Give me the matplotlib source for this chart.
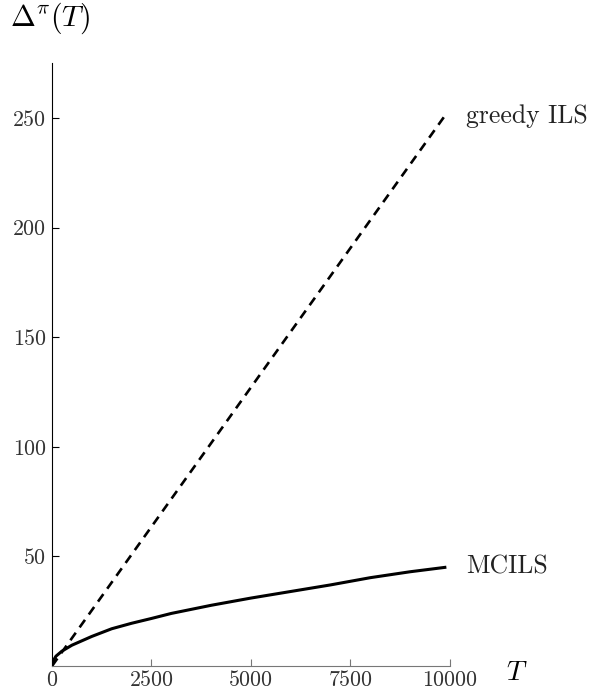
import matplotlib
matplotlib.use("Agg")
import matplotlib.pyplot as plt

plt.rcParams['font.family'] = 'serif'
plt.rcParams['font.serif'] = ['cmr10', 'DejaVu Serif']
plt.rcParams['mathtext.fontset'] = 'cm'
plt.rcParams['axes.formatter.use_mathtext'] = True

greedy_T = [0, 9875]
greedy_vals = [0, 251]
mcils_T = [0, 50, 100, 250, 500, 1000, 1500, 2000, 2500, 3000, 4000, 5000, 6000, 7000, 8000, 9000, 9875]
mcils_vals = [0, 3, 4.5, 6.8, 9.5, 13.5, 17, 19.5, 21.7, 24, 27.7, 31, 34, 37, 40.3, 43, 45]
xticks = [0, 2500, 5000, 7500, 10000]
yticks = [50, 100, 150, 200, 250]

fig = plt.figure(figsize=(5.95, 6.94), dpi=100)
ax = fig.add_axes([0.0874, 0.0403, 0.756 - 0.0874, 0.909 - 0.0403])
ax.plot(greedy_T, greedy_vals, color='black', lw=1.9, linestyle=(0, (3.5, 2.5)))
ax.plot(mcils_T, mcils_vals, color='black', lw=2.2)
ax.set_xlim(0, 10000)
ax.set_ylim(0, 275)
ax.set_xticks(xticks)
ax.set_yticks(yticks)
ax.set_xticklabels([str(t) for t in xticks], fontsize=15.8)
ax.set_yticklabels([str(t) for t in yticks], fontsize=15.8)
ax.spines['top'].set_visible(False)
ax.spines['right'].set_visible(False)
ax.spines['bottom'].set_color('#777777')
ax.spines['left'].set_color('black')
ax.tick_params(axis='x', direction='in', length=5, colors='#777777', labelcolor='#333333', pad=3)
ax.tick_params(axis='y', direction='in', length=5, colors='black', labelcolor='#333333', pad=4.5)

ax.text(10400, 251, 'greedy ILS', fontsize=18.5, va='center', ha='left', color='#222222')
ax.text(10400, 45.5, 'MCILS', fontsize=18.5, va='center', ha='left', color='#222222')
fig.text(0.017, 0.974, r'$\Delta^{\pi}(T)$', fontsize=21.5, va='center', ha='left')
fig.text(0.869, 0.031, r'$T$', fontsize=20, va='center', ha='center')

fig.savefig('out.png', dpi=100)
